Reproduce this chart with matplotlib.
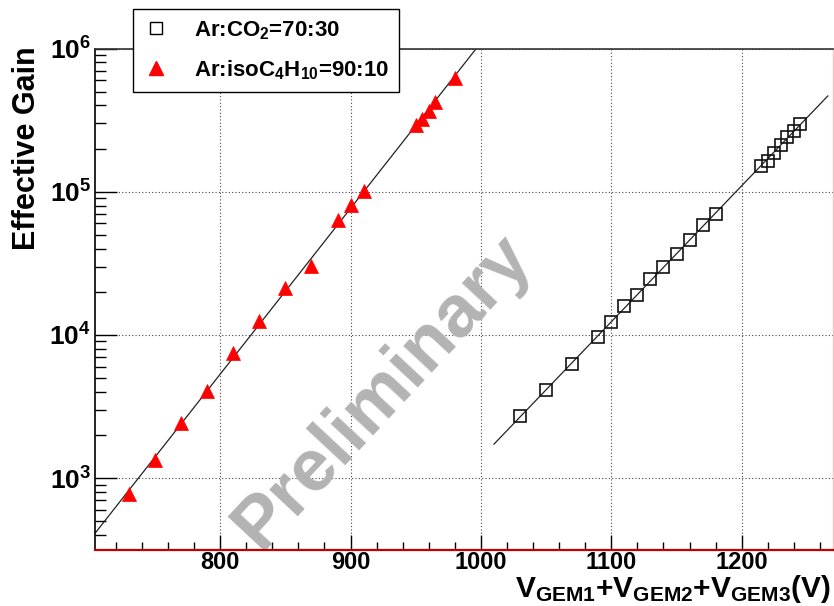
import numpy as np
import matplotlib
matplotlib.use("Agg")
import matplotlib.pyplot as plt
from matplotlib.ticker import LogLocator, FixedLocator, NullFormatter, MultipleLocator
from matplotlib.lines import Line2D

plt.rcParams['font.family'] = ['Liberation Sans', 'DejaVu Sans']
plt.rcParams['font.weight'] = 'bold'
plt.rcParams['mathtext.fontset'] = 'custom'
plt.rcParams['mathtext.rm'] = 'Liberation Sans:bold'
plt.rcParams['mathtext.bf'] = 'Liberation Sans:bold'
plt.rcParams['mathtext.it'] = 'Liberation Sans:bold:italic'
plt.rcParams['mathtext.default'] = 'bf'

# ---- data ----
iso_voltage = [730, 750, 770, 790, 810, 830, 850, 870, 890, 900, 910, 950, 955, 960, 965, 980]
iso_gain = [770, 1340, 2420, 4050, 7450, 12600, 21400, 30400, 63700, 81000, 100400,
            290000, 324000, 369000, 424000, 624000]

co2_voltage = [1030, 1050, 1070, 1090, 1100, 1110, 1120, 1130, 1140, 1150, 1160, 1170, 1180,
               1215, 1220, 1225, 1230, 1235, 1240, 1245]
co2_gain = [2700, 4120, 6300, 9730, 12280, 15900, 18950, 24700, 29900, 36500, 46100, 58100, 70100,
            152000, 165000, 187000, 211000, 241000, 266000, 299000]

iso_fit_range = [704, 1000]
co2_fit_range = [1010, 1266]

x_ticks = [800, 900, 1000, 1100, 1200]
y_ticks = [1e3, 1e4, 1e5, 1e6]
y_tick_labels = [r'$\mathbf{10^{3}}$', r'$\mathbf{10^{4}}$', r'$\mathbf{10^{5}}$', r'$\mathbf{10^{6}}$']

label_co2 = r'Ar:CO$_{2}$=70:30'
label_iso = r'Ar:isoC$_{4}$H$_{10}$=90:10'
xlabel = r'V$_{GEM1}$+V$_{GEM2}$+V$_{GEM3}$(V)'
ylabel = 'Effective Gain'

W, H = 834, 606
fig = plt.figure(figsize=(W / 100, H / 100), dpi=100)
ax = fig.add_axes([95 / W, (H - 550) / H, (833 - 95) / W, (550 - 48.5) / H])

ax.set_yscale('log')
ax.set_xlim(704, 1270)
ax.set_ylim(315, 1.0e6)

# grid
ax.grid(True, which='major', linestyle=(0, (1, 2)), color='#444444', linewidth=0.8)
ax.set_axisbelow(True)

# fit lines
for xs, ys, rng in [(iso_voltage, iso_gain, iso_fit_range), (co2_voltage, co2_gain, co2_fit_range)]:
    p = np.polyfit(np.array(xs, float), np.log10(ys), 1)
    xx = np.linspace(rng[0], rng[1], 50)
    ax.plot(xx, 10 ** np.polyval(p, xx), color='#222222', linewidth=0.9, zorder=2)

# data points
ax.plot(co2_voltage, co2_gain, linestyle='none', marker='s', markersize=8.5,
        markerfacecolor='none', markeredgecolor='#111111', markeredgewidth=1.2, zorder=3)
ax.plot(iso_voltage, iso_gain, linestyle='none', marker='^', markersize=10,
        markerfacecolor='#ff0000', markeredgecolor='#ff0000', markeredgewidth=0.5, zorder=3)

# ticks
ax.xaxis.set_major_locator(FixedLocator(x_ticks))
ax.xaxis.set_minor_locator(MultipleLocator(20))
ax.set_xticklabels([str(v) for v in x_ticks], fontweight='bold')
ax.yaxis.set_major_locator(FixedLocator(y_ticks))
ax.yaxis.set_minor_locator(LogLocator(base=10, subs=np.arange(2, 10)))
ax.yaxis.set_minor_formatter(NullFormatter())
ax.set_yticklabels(y_tick_labels)

ax.tick_params(axis='both', which='both', direction='in', top=False, right=False, color='black')
ax.tick_params(axis='x', which='major', length=11, width=1, labelsize=17, pad=0.5)
ax.tick_params(axis='x', which='minor', length=6, width=1)
ax.tick_params(axis='y', which='major', length=16, width=1, labelsize=19, pad=3)
ax.tick_params(axis='y', which='minor', length=8, width=1)

# spines
ax.spines['left'].set_color('black')
ax.spines['left'].set_linewidth(1.2)
ax.spines['bottom'].set_color('#c00000')
ax.spines['bottom'].set_linewidth(1.6)
ax.spines['top'].set_color('#333333')
ax.spines['top'].set_linewidth(1.2)
ax.spines['right'].set_color('#f5c6c6')
ax.spines['right'].set_linewidth(1.0)

# labels
fig.text(27 / W, 1 - 148 / H, ylabel, rotation=90, ha='center', va='center',
         fontsize=22, fontweight='bold')
fig.text(831 / W, 1 / H, xlabel, ha='right', va='bottom', fontsize=21.5, fontweight='bold')

# watermark
ax.text(0.39, 0.315, 'Preliminary', transform=ax.transAxes, rotation=47, ha='center', va='center',
        fontsize=53, fontweight='bold', color='#b3b3b3', zorder=1.5)

# legend
handles = [Line2D([], [], linestyle='none', marker='s', markersize=9, markerfacecolor='none',
                  markeredgecolor='black', markeredgewidth=1.0),
           Line2D([], [], linestyle='none', marker='^', markersize=10, markerfacecolor='#ff0000',
                  markeredgecolor='#ff0000')]
leg = fig.legend(handles, [label_co2, label_iso], loc='upper left',
                 bbox_to_anchor=(133 / W, 1 - 9 / H), frameon=True, fancybox=False,
                 prop={'size': 16, 'weight': 'bold'}, borderpad=0.45, labelspacing=0.75,
                 handlelength=1.2, handletextpad=1.1, borderaxespad=0)
leg.get_frame().set_edgecolor('black')
leg.get_frame().set_linewidth(1.0)
leg.get_frame().set_alpha(1)

fig.savefig('out.png', dpi=100)
